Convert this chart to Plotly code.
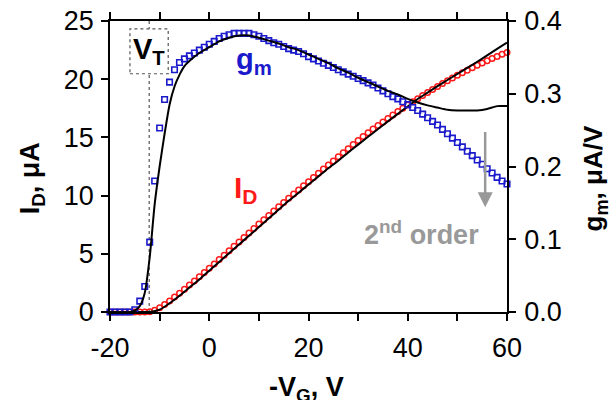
import plotly.graph_objects as go

# ---------------- data ----------------
vg = list(range(-20, 61))  # -V_G, V (measured points)

id_meas = [0, 0, 0, 0, 0, 0, 0, 0, 0.02, 0.16,            # -20 .. -11
           0.37, 0.65, 0.95, 1.28, 1.62, 1.96, 2.31, 2.67, 3.02, 3.39,  # -10 .. -1
           3.75, 4.12, 4.50, 4.88, 5.26, 5.64, 6.02, 6.41, 6.79, 7.17,  # 0 .. 9
           7.55, 7.93, 8.30, 8.67, 9.04, 9.40, 9.77, 10.13, 10.49, 10.84,  # 10 .. 19
           11.20, 11.56, 11.92, 12.28, 12.63, 12.98, 13.33, 13.68, 14.03, 14.38,  # 20 .. 29
           14.73, 15.08, 15.40, 15.72, 16.03, 16.33, 16.63, 16.93, 17.22, 17.50,  # 30 .. 39
           17.78, 18.06, 18.33, 18.60, 18.86, 19.12, 19.37, 19.62, 19.86, 20.10,  # 40 .. 49
           20.33, 20.55, 20.77, 20.98, 21.19, 21.39, 21.59, 21.78, 21.96, 22.14,  # 50 .. 59
           22.30]                                                     # 60

gm_meas = [0, 0, 0, 0, 0, 0.003, 0.015, 0.035, 0.096, 0.18,      # -20 .. -11
           0.253, 0.292, 0.316, 0.333, 0.343, 0.348, 0.352, 0.356, 0.360, 0.364,  # -10 .. -1
           0.368, 0.372, 0.376, 0.379, 0.381, 0.383, 0.383, 0.383, 0.383, 0.381,  # 0 .. 9
           0.379, 0.376, 0.373, 0.370, 0.368, 0.365, 0.362, 0.360, 0.358, 0.355,  # 10 .. 19
           0.351, 0.348, 0.345, 0.342, 0.339, 0.336, 0.333, 0.330, 0.327, 0.324,  # 20 .. 29
           0.321, 0.318, 0.315, 0.312, 0.308, 0.304, 0.300, 0.296, 0.293, 0.289,  # 30 .. 39
           0.285, 0.281, 0.277, 0.272, 0.267, 0.262, 0.257, 0.251, 0.245, 0.239,  # 40 .. 49
           0.233, 0.227, 0.221, 0.215, 0.209, 0.203, 0.197, 0.191, 0.185, 0.180,  # 50 .. 59
           0.176]                                                         # 60

# model (black) curves
vg_fit_id = [-20, -14, -12, -10, -8, -6, -4, -2, 0, 2, 4, 6, 8, 10, 12, 14, 16, 18, 20,
             22, 24, 26, 28, 30, 32, 34, 36, 38, 40, 42, 44, 46, 48, 50, 52, 54, 56, 58, 60]
id_fit = [0, 0, 0.0, 0.2, 0.75, 1.4, 2.1, 2.8, 3.55, 4.3, 5.05, 5.8, 6.55, 7.3, 8.05, 8.8,
          9.55, 10.25, 10.95, 11.65, 12.35, 13.0, 13.7, 14.38, 15.05, 15.72, 16.38, 17.02,
          17.66, 18.3, 18.85, 19.4, 19.93, 20.45, 20.97, 21.5, 22.05, 22.6, 23.15]

vg_fit_gm = [-20, -16, -15, -14, -13, -12, -11, -10, -9, -8, -7, -6, -5, -4, -2, 0, 2, 4, 6, 8,
             10, 12, 14, 16, 18, 20, 22, 24, 26, 28, 30, 32, 34, 36, 38, 40, 42, 44, 46, 48,
             50, 52, 54, 56, 58, 60]
gm_fit = [0, 0, 0.002, 0.008, 0.026, 0.075, 0.148, 0.2, 0.245, 0.285, 0.31, 0.326, 0.338,
          0.345, 0.356, 0.364, 0.372, 0.377, 0.380, 0.380, 0.377, 0.373, 0.369, 0.364, 0.36,
          0.354, 0.348, 0.342, 0.335, 0.329, 0.322, 0.316, 0.31, 0.304, 0.299, 0.293, 0.288,
          0.284, 0.281, 0.278, 0.277, 0.277, 0.277, 0.279, 0.283, 0.283]

x_ticks = [-20, -10, 0, 10, 20, 30, 40, 50, 60]
x_ticktext = ["-20", "", "0", "", "20", "", "40", "", "60"]
y_ticks = [0, 5, 10, 15, 20, 25]
y2_ticks = [0.0, 0.1, 0.2, 0.3, 0.4]
vt = -12.1

FONT = "Liberation Sans, Arial, sans-serif"
RED = "#ff1a1a"
BLUE = "#1a1acc"
GRAY = "#999999"

fig = go.Figure()
fig.add_trace(go.Scatter(x=vg, y=gm_meas, yaxis="y2", mode="markers",
                         marker=dict(symbol="square-open", size=5.5, color=BLUE,
                                     line=dict(width=1.6, color=BLUE)),
                         cliponaxis=False, showlegend=False))
fig.add_trace(go.Scatter(x=vg, y=id_meas, mode="markers",
                         marker=dict(symbol="circle-open", size=5.5, color=RED,
                                     line=dict(width=1.5, color=RED)),
                         cliponaxis=False, showlegend=False))
fig.add_trace(go.Scatter(x=vg_fit_id, y=id_fit, mode="lines",
                         line=dict(color="black", width=2, shape="spline", smoothing=0.6),
                         showlegend=False))
fig.add_trace(go.Scatter(x=vg_fit_gm, y=gm_fit, yaxis="y2", mode="lines",
                         line=dict(color="black", width=2, shape="spline", smoothing=0.6),
                         showlegend=False))

# V_T dotted line and box
fig.add_shape(type="line", x0=vt, x1=vt, y0=0, y1=25, xref="x", yref="y",
              line=dict(color="#555555", width=1.2, dash="dot"), layer="below")
fig.add_shape(type="rect", x0=-15.98, x1=-8.27, y0=20.47, y1=24.33, xref="x", yref="y",
              line=dict(color="#555555", width=1.2, dash="dot"), fillcolor="white",
              layer="below")

C = dict(xanchor="center", yanchor="middle", showarrow=False)
ann = []
ann.append(dict(x=-12.1, y=22.4, xref="x", yref="y", text="<b>V<sub>T</sub></b>",
                font=dict(family=FONT, size=29, color="black"), **C))
ann.append(dict(x=9.0, y=21.55, xref="x", yref="y", text="<b>g<sub>m</sub></b>",
                font=dict(family=FONT, size=29, color=BLUE), **C))
ann.append(dict(x=7.4, y=10.5, xref="x", yref="y", text="<b>I<sub>D</sub></b>",
                font=dict(family=FONT, size=30, color=RED), **C))
ann.append(dict(x=42.8, y=6.8, xref="x", yref="y", text="<b>2<sup>nd</sup> order</b>",
                font=dict(family=FONT, size=27, color=GRAY), **C))
ann.append(dict(x=55.6, y=9.0, ax=55.6, ay=15.6, xref="x", yref="y", axref="x", ayref="y",
                text="", showarrow=True, arrowhead=2, arrowsize=1.2, arrowwidth=2.5,
                arrowcolor=GRAY))
# axis titles (positions in paper fractions of the plot area)
ann.append(dict(x=-0.196, y=0.46, xref="paper", yref="paper", text="<b>I<sub>D</sub>, μA</b>",
                textangle=-90, font=dict(family=FONT, size=27, color="black"), **C))
ann.append(dict(x=1.220, y=0.46, xref="paper", yref="paper", text="<b>g<sub>m</sub>, μA/V</b>",
                textangle=-90, font=dict(family=FONT, size=26, color="black"), **C))
ann.append(dict(x=0.4956, y=-0.265, xref="paper", yref="paper", text="<b>-V<sub>G</sub>, V</b>",
                font=dict(family=FONT, size=27, color="black"), **C))

axis_common = dict(showgrid=False, zeroline=False, showline=True, linecolor="black",
                   linewidth=1.5, ticks="outside", ticklen=7, tickwidth=1.5,
                   tickcolor="black", automargin=False,
                   tickfont=dict(family=FONT, size=27, color="black"))

fig.update_layout(
    width=613, height=400,
    margin=dict(l=110, r=105.5, t=20.5, b=88, autoexpand=False),
    paper_bgcolor="white", plot_bgcolor="white",
    font=dict(family=FONT, color="black"),
    xaxis=dict(range=[-20, 60], tickvals=x_ticks, ticktext=x_ticktext, mirror="allticks",
               ticklabelstandoff=4, **axis_common),
    yaxis=dict(range=[0, 25], tickvals=y_ticks, ticklabelstandoff=2, **axis_common),
    yaxis2=dict(range=[0, 0.4], tickvals=y2_ticks, tickformat=".1f", overlaying="y",
                side="right", ticklabelstandoff=3, **axis_common),
    annotations=ann,
    showlegend=False,
)

# remove the browser's default 8px page margin so the figure fills the window exactly
fig.write_html("out.html", config={"displayModeBar": False},
               post_script="document.body.style.margin='0';document.body.style.overflow='hidden';")
